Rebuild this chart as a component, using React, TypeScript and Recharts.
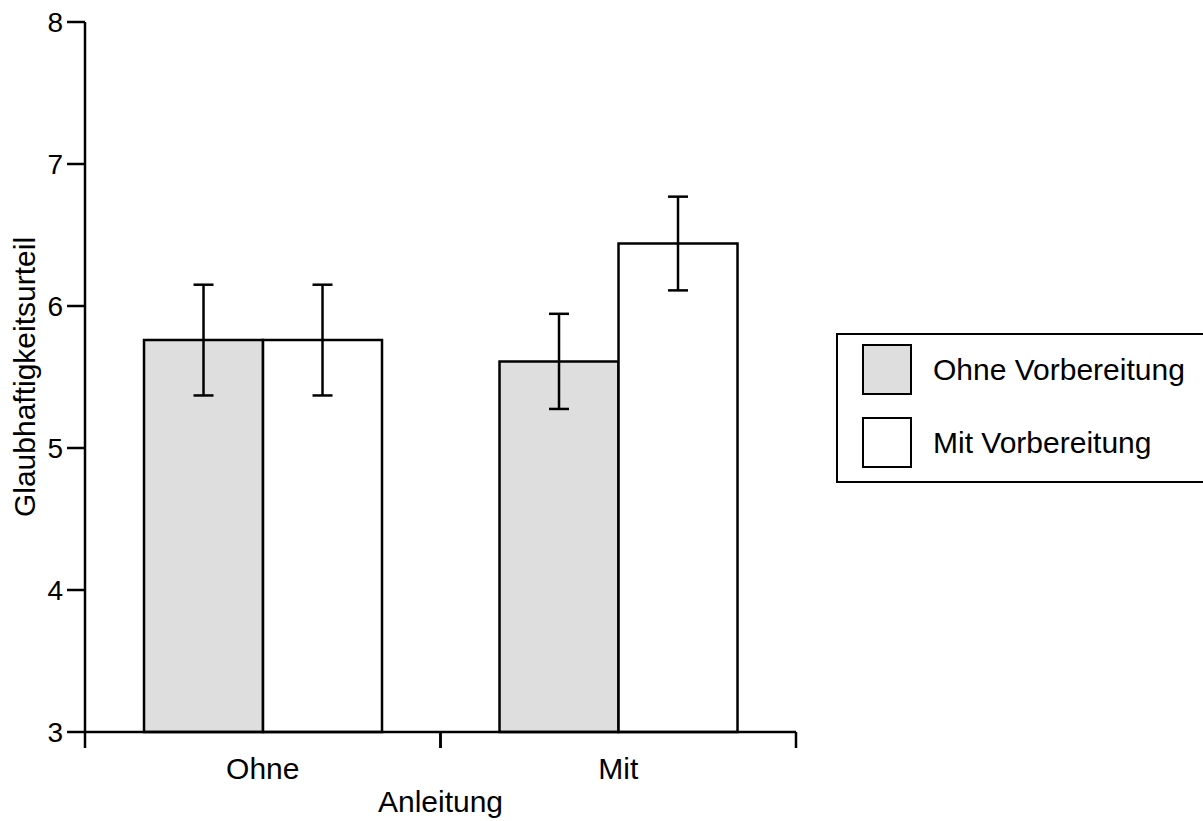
import { BarChart, Bar, XAxis, YAxis, ErrorBar, Legend } from 'recharts';

const FONT = '"Liberation Sans", Arial, sans-serif';

const categories = ['Ohne', 'Mit'];
const seriesNames = ['Ohne Vorbereitung', 'Mit Vorbereitung'];
const ohneVorbereitung = [5.76, 5.61];
const ohneVorbereitungErr = [0.39, 0.335];
const mitVorbereitung = [5.76, 6.44];
const mitVorbereitungErr = [0.39, 0.33];
const yTicks = [3, 4, 5, 6, 7, 8];

const data = categories.map((name, i) => ({
  name,
  ohne: ohneVorbereitung[i],
  ohneErr: ohneVorbereitungErr[i],
  mit: mitVorbereitung[i],
  mitErr: mitVorbereitungErr[i],
}));

const LINE = 2.5;

// category label in the middle, tick marks on the band edges
const CategoryTick = (props: any) => {
  const { x, y, payload } = props;
  const half = payload && payload.offset ? payload.offset : 177.75;
  const top = y - 16;
  return (
    <g>
      <line x1={x - half} y1={top} x2={x - half} y2={y} stroke="#000" strokeWidth={LINE} />
      <line x1={x + half} y1={top} x2={x + half} y2={y} stroke="#000" strokeWidth={LINE} />
      <text x={x} y={y + 31} textAnchor="middle" fontSize={30} fontFamily={FONT} fill="#000">
        {payload.value}
      </text>
    </g>
  );
};

const ValueTick = (props: any) => {
  const { x, y, payload } = props;
  return (
    <text x={x} y={y + 10} textAnchor="end" fontSize={28} fontFamily={FONT} fill="#000">
      {payload.value}
    </text>
  );
};

const YTitle = (props: any) => {
  const vb = props.viewBox || { x: 0, y: 22, width: 85, height: 710 };
  const cx = vb.x + 35;
  const cy = vb.y + vb.height / 2;
  return (
    <text
      x={cx}
      y={cy}
      transform={`rotate(-90 ${cx} ${cy})`}
      textAnchor="middle"
      fontSize={30}
      fontFamily={FONT}
      fill="#000"
    >
      Glaubhaftigkeitsurteil
    </text>
  );
};

const XTitle = (props: any) => {
  const vb = props.viewBox || { x: 85, y: 732, width: 711, height: 89 };
  return (
    <text x={vb.x + vb.width / 2} y={812} textAnchor="middle" fontSize={30} fontFamily={FONT} fill="#000">
      Anleitung
    </text>
  );
};

const LegendBox = ({ payload }: any) => {
  const items = [...(payload || [])].sort(
    (a: any, b: any) => seriesNames.indexOf(a.value) - seriesNames.indexOf(b.value)
  );
  return (
    <div
      style={{
        width: 420,
        height: 150,
        boxSizing: 'border-box',
        border: '2.5px solid #000',
        background: '#fff',
        paddingTop: 9,
        paddingLeft: 24,
        fontFamily: FONT,
        fontSize: 30,
        color: '#000',
      }}
    >
      {items.map((p: any, i: number) => (
        <div key={i} style={{ display: 'flex', alignItems: 'center', height: 51, marginBottom: 22 }}>
          <div
            style={{
              width: 50,
              height: 51,
              boxSizing: 'border-box',
              border: '2.5px solid #000',
              background: p.payload?.fill || p.color,
            }}
          />
          <span style={{ marginLeft: 21 }}>{p.value}</span>
        </div>
      ))}
    </div>
  );
};

export default function App() {
  return (
    <div style={{ position: 'absolute', left: 0, top: 0, width: 1203, height: 821, overflow: 'hidden', background: '#fff' }}>
      <BarChart
        width={1203}
        height={821}
        data={data}
        margin={{ top: 22, right: 407, bottom: 0, left: 0 }}
        barCategoryGap="16.6%"
        barGap={0}
      >
        <XAxis
          dataKey="name"
          height={89}
          axisLine={{ stroke: '#000', strokeWidth: LINE }}
          tickLine={false}
          tickSize={16}
          tickMargin={0}
          tick={<CategoryTick />}
          label={<XTitle />}
        />
        <XAxis
          xAxisId="top"
          dataKey="name"
          orientation="top"
          height={0}
          tick={false}
          tickLine={false}
          axisLine={{ stroke: '#000', strokeWidth: LINE }}
        />
        <YAxis
          type="number"
          domain={[3, 8]}
          ticks={yTicks}
          width={85}
          interval={0}
          axisLine={{ stroke: '#000', strokeWidth: LINE }}
          tickLine={{ stroke: '#000', strokeWidth: LINE }}
          tickSize={18}
          tickMargin={4}
          tick={<ValueTick />}
          label={<YTitle />}
        />
        <YAxis
          yAxisId="right"
          orientation="right"
          type="number"
          domain={[3, 8]}
          width={0}
          tick={false}
          tickLine={false}
          axisLine={{ stroke: '#000', strokeWidth: LINE }}
        />
        <Legend
          layout="vertical"
          align="center"
          verticalAlign="middle"
          content={<LegendBox />}
          wrapperStyle={{ left: 836, top: 333, width: 420 }}
        />
        <Bar dataKey="ohne" name={seriesNames[0]} fill="#dedede" stroke="#000" strokeWidth={LINE} isAnimationActive={false}>
          <ErrorBar dataKey="ohneErr" width={10} stroke="#000" strokeWidth={2.5} />
        </Bar>
        <Bar dataKey="mit" name={seriesNames[1]} fill="#ffffff" stroke="#000" strokeWidth={LINE} isAnimationActive={false}>
          <ErrorBar dataKey="mitErr" width={10} stroke="#000" strokeWidth={2.5} />
        </Bar>
      </BarChart>
    </div>
  );
}
